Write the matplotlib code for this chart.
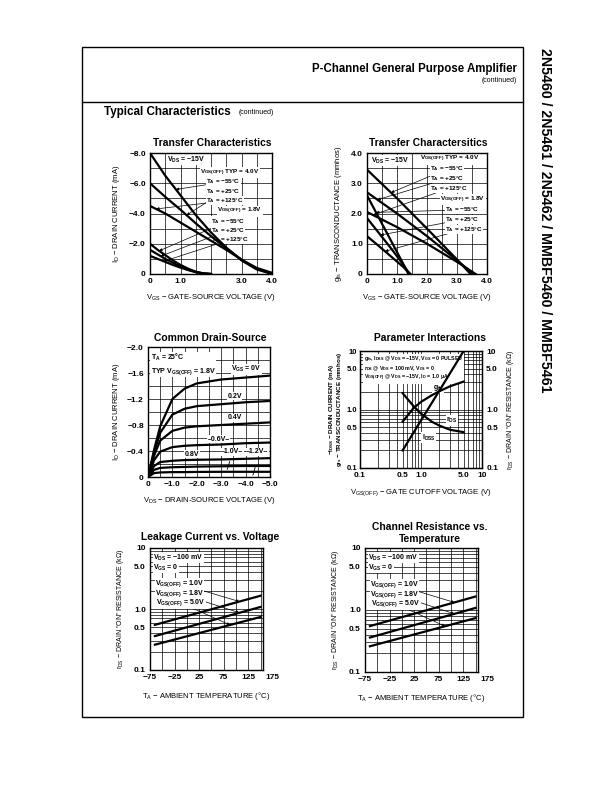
import matplotlib.pyplot as plt
import numpy as np
from matplotlib.patches import Rectangle
from matplotlib.ticker import NullFormatter

plt.rcParams['font.family'] = ['Liberation Sans Narrow', 'Liberation Sans', 'DejaVu Sans']
plt.rcParams['font.weight'] = 'bold'
plt.rcParams['mathtext.default'] = 'regular'

# ---------------- data ----------------
# Transfer characteristics, I_D (mA) vs V_GS (V)
vgs_hi = [0, 0.5, 1.0, 1.5, 2.0, 2.5, 3.0, 3.5, 4.0]
id_hi_m55 = [-8.0, -6.5, -5.2, -3.9, -2.75, -1.75, -0.9, -0.3, 0.0]
id_hi_25 = [-6.0, -5.1, -4.25, -3.35, -2.5, -1.7, -0.95, -0.35, -0.03]
id_hi_125 = [-4.5, -4.0, -3.4, -2.8, -2.2, -1.6, -0.95, -0.4, -0.08]
vgs_lo = [0, 0.25, 0.5, 0.75, 1.0, 1.25, 1.5, 1.75, 2.0]
id_lo_m55 = [-2.0, -1.6, -1.25, -0.9, -0.6, -0.35, -0.15, -0.04, 0.0]
id_lo_25 = [-1.6, -1.3, -1.0, -0.75, -0.5, -0.3, -0.13, -0.03, 0.0]
id_lo_125 = [-1.2, -1.0, -0.8, -0.6, -0.42, -0.26, -0.12, -0.04, 0.0]

# Transfer characteristics, g_fs (mmhos) vs V_GS (V)
vgs_g_hi_m55 = [0, 1.0, 2.0, 3.0, 3.45]
gfs_hi_m55 = [3.45, 2.5, 1.5, 0.48, 0.0]
vgs_g_hi_25 = [0, 1.0, 2.0, 3.0, 3.55]
gfs_hi_25 = [2.7, 2.0, 1.25, 0.45, 0.0]
vgs_g_hi_125 = [0, 1.0, 2.0, 3.0, 3.62]
gfs_hi_125 = [2.05, 1.55, 1.0, 0.4, 0.0]
vgs_g_lo_m55 = [0, 0.4, 0.8, 1.2, 1.38]
gfs_lo_m55 = [2.6, 1.85, 1.1, 0.35, 0.0]
vgs_g_lo_25 = [0, 0.4, 0.8, 1.2, 1.42]
gfs_lo_25 = [1.85, 1.35, 0.85, 0.32, 0.0]
vgs_g_lo_125 = [0, 0.4, 0.8, 1.2, 1.45]
gfs_lo_125 = [1.25, 0.92, 0.58, 0.24, 0.0]

# Common drain-source, I_D (mA) vs V_DS (V)
vds = [0, -0.25, -0.5, -1.0, -1.5, -2.0, -3.0, -4.0, -5.0]
id_vgs00 = [0, -0.42, -0.78, -1.2, -1.36, -1.44, -1.5, -1.53, -1.56]
id_vgs02 = [0, -0.38, -0.68, -0.96, -1.05, -1.09, -1.12, -1.15, -1.17]
id_vgs04 = [0, -0.33, -0.56, -0.71, -0.76, -0.78, -0.8, -0.82, -0.84]
id_vgs06 = [0, -0.26, -0.39, -0.46, -0.48, -0.49, -0.5, -0.52, -0.53]
id_vgs08 = [0, -0.17, -0.23, -0.25, -0.26, -0.265, -0.27, -0.28, -0.29]
id_vgs10 = [0, -0.11, -0.14, -0.15, -0.155, -0.16, -0.165, -0.17, -0.17]
id_vgs12 = [0, -0.06, -0.07, -0.075, -0.075, -0.078, -0.08, -0.08, -0.08]
vgs_names = ['0V', '0.2V', '0.4V', '0.6V', '0.8V', '1.0V', '1.2V']

# Parameter interactions vs V_GS(OFF)
vp_idss = [0.5, 1.0, 2.0, 5.0]
idss = [0.2, 0.65, 2.1, 10.0]
vp_gfs = [0.5, 0.75, 1.0, 1.5, 2.0, 3.0, 5.0]
gfs_vp = [0.62, 1.05, 1.35, 1.75, 2.05, 2.5, 3.0]
vp_rds = [0.5, 0.75, 1.0, 1.5, 2.0, 3.0, 5.0]
rds_vp = [1.9, 1.15, 0.85, 0.62, 0.53, 0.45, 0.41]

# Channel resistance r_DS (kOhm) vs T_A (C)
temp = [-65, 150]
rds_1v0 = [0.55, 1.65]
rds_1v8 = [0.36, 1.08]
rds_5v0 = [0.26, 0.74]

W, H = 612, 792
fig = plt.figure(figsize=(W / 100, H / 100), dpi=100)

bg = fig.add_axes([0, 0, 1, 1])
bg.set_xlim(0, W)
bg.set_ylim(H, 0)
bg.axis('off')


def add(x0, y0, x1, y1):
    return fig.add_axes([x0 / W, 1 - y1 / H, (x1 - x0) / W, (y1 - y0) / H])


def style(ax):
    ax.tick_params(which='both', length=0, labelsize=6, pad=3)
    ax.grid(which='both', color='k', lw=0.5, zorder=1)
    ax.set_axisbelow(True)
    for s in ax.spines.values():
        s.set_linewidth(1.0)


def box(ax, x, y, s, fs=5, **kw):
    ax.text(x, y, s, fontsize=fs, va='center', ha='left', zorder=2.5,
            bbox=dict(fc='white', ec='none', pad=0.3), **kw)


def note(ax, s, xy, xytext, fs=4.6):
    ax.annotate(s, xy=xy, xytext=xytext, fontsize=fs, va='center', ha='left', zorder=2.5,
                bbox=dict(fc='white', ec='none', pad=0.1),
                arrowprops=dict(arrowstyle='-|>', lw=0.5, color='k',
                                mutation_scale=4, shrinkA=0, shrinkB=0))


LW = 1.6

# ---------- page ----------
bg.add_patch(Rectangle((82, 47), 441, 670, fill=False, lw=1.0, ec='k'))
bg.plot([82, 523], [102, 102], color='k', lw=1.0)
bg.text(517, 69, 'P-Channel General Purpose Amplifier', fontsize=8.3, ha='right', va='center')
bg.text(517, 80, '(continued)', fontsize=5, ha='right', va='center', fontweight='normal')
bg.text(104, 112, 'Typical Characteristics', fontsize=8.4, ha='left', va='center')
bg.text(239, 113, '(continued)', fontsize=5, ha='left', va='center', fontweight='normal')
bg.text(545, 48, '2N5460 / 2N5461 / 2N5462 / MMBF5460 / MMBF5461', fontsize=10.2,
        rotation=270, ha='center', va='top')

bg.text(212, 143, 'Transfer Characteristics', fontsize=7.4, ha='center', va='center')
bg.text(428, 143, 'Transfer Charactersitics', fontsize=7.4, ha='center', va='center')
bg.text(210, 338, 'Common Drain-Source', fontsize=7.4, ha='center', va='center')
bg.text(430, 338, 'Parameter Interactions', fontsize=7.4, ha='center', va='center')
bg.text(210, 537, 'Leakage Current vs. Voltage', fontsize=7.4, ha='center', va='center')
bg.text(430, 533, 'Channel Resistance vs.\nTemperature', fontsize=7.4, ha='center',
        va='center', linespacing=1.15)

# ---------- chart 1: transfer, I_D ----------
ax1 = add(150, 153, 272, 274)
for y in [id_hi_m55, id_hi_25, id_hi_125]:
    ax1.plot(vgs_hi, y, color='k', lw=LW, zorder=3)
for y in [id_lo_m55, id_lo_25, id_lo_125]:
    ax1.plot(vgs_lo, y, color='k', lw=LW, zorder=3)
ax1.set_xlim(0, 4)
ax1.set_ylim(0, -8)
ax1.set_xticks([0, 1, 2, 3, 4])
ax1.set_xticklabels(['0', '1.0', '', '3.0', '4.0'])
ax1.set_yticks([0, -2, -4, -6, -8])
ax1.set_yticklabels(['0', '\u22122.0', '\u22124.0', '\u22126.0', '\u22128.0'])
ax1.set_xticks(np.arange(0, 4.01, 0.5), minor=True)
ax1.set_yticks(np.arange(0, -8.01, -1), minor=True)
style(ax1)
ax1.set_xlabel('V$_{GS}$ \u2212 GATE-SOURCE VOLTAGE (V)', fontsize=5.5, labelpad=5)
ax1.set_ylabel('I$_D$ \u2212 DRAIN CURRENT (mA)', fontsize=5.5, labelpad=5)
box(ax1, 0.55, -7.55, 'V$_{DS}$ = \u221215V')
box(ax1, 1.65, -6.7, 'V$_{GS(OFF)}$ TYP = 4.0V', fs=4.6)
note(ax1, 'T$_A$ = \u221255\u00b0C', (0.85, np.interp(0.85, vgs_hi, id_hi_m55)), (1.85, -6.08))
note(ax1, 'T$_A$ = +25\u00b0C', (1.2, np.interp(1.2, vgs_hi, id_hi_25)), (1.85, -5.46))
note(ax1, 'T$_A$ = +125\u00b0C', (0.2, np.interp(0.2, vgs_hi, id_hi_125)), (1.85, -4.84))
box(ax1, 2.2, -4.15, 'V$_{GS(OFF)}$ = 1.8V', fs=4.6)
note(ax1, 'T$_A$ = \u221255\u00b0C', (0.3, np.interp(0.3, vgs_lo, id_lo_m55)), (2.0, -3.5))
note(ax1, 'T$_A$ = +25\u00b0C', (0.35, np.interp(0.35, vgs_lo, id_lo_25)), (2.0, -2.88))
note(ax1, 'T$_A$ = +125\u00b0C', (0.45, np.interp(0.45, vgs_lo, id_lo_125)), (2.0, -2.26))

# ---------- chart 2: transfer, g_fs ----------
ax2 = add(367, 153, 487, 274)
for x, y in [(vgs_g_hi_m55, gfs_hi_m55), (vgs_g_hi_25, gfs_hi_25), (vgs_g_hi_125, gfs_hi_125),
             (vgs_g_lo_m55, gfs_lo_m55), (vgs_g_lo_25, gfs_lo_25), (vgs_g_lo_125, gfs_lo_125)]:
    ax2.plot(x, y, color='k', lw=LW, zorder=3)
ax2.set_xlim(0, 4)
ax2.set_ylim(0, 4)
ax2.set_xticks([0, 1, 2, 3, 4])
ax2.set_xticklabels(['0', '1.0', '2.0', '3.0', '4.0'])
ax2.set_yticks([0, 1, 2, 3, 4])
ax2.set_yticklabels(['0', '1.0', '2.0', '3.0', '4.0'])
ax2.set_xticks(np.arange(0, 4.01, 0.5), minor=True)
ax2.set_yticks(np.arange(0, 4.01, 0.5), minor=True)
style(ax2)
ax2.set_xlabel('V$_{GS}$ \u2212 GATE-SOURCE VOLTAGE (V)', fontsize=5.5, labelpad=5)
ax2.set_ylabel('g$_{fs}$ \u2212 TRANSCONDUCTANCE (mmhos)', fontsize=5.5, labelpad=5)
box(ax2, 0.12, 3.75, 'V$_{DS}$ = \u221215V')
box(ax2, 1.75, 3.8, 'V$_{GS(OFF)}$ TYP = 4.0V', fs=4.6)
note(ax2, 'T$_A$ = \u221255\u00b0C', (0.8, np.interp(0.8, vgs_g_hi_m55, gfs_hi_m55)), (2.1, 3.47))
note(ax2, 'T$_A$ = +25\u00b0C', (0.35, np.interp(0.35, vgs_g_hi_25, gfs_hi_25)), (2.1, 3.15))
note(ax2, 'T$_A$ = +125\u00b0C', (0.2, np.interp(0.2, vgs_g_hi_125, gfs_hi_125)), (2.1, 2.83))
box(ax2, 2.45, 2.45, 'V$_{GS(OFF)}$ = 1.8V', fs=4.6)
note(ax2, 'T$_A$ = \u221255\u00b0C', (0.3, np.interp(0.3, vgs_g_lo_m55, gfs_lo_m55)), (2.6, 2.12))
note(ax2, 'T$_A$ = +25\u00b0C', (0.45, np.interp(0.45, vgs_g_lo_25, gfs_lo_25)), (2.6, 1.8))
note(ax2, 'T$_A$ = +125\u00b0C', (0.6, np.interp(0.6, vgs_g_lo_125, gfs_lo_125)), (2.6, 1.48))

# ---------- chart 3: common drain-source ----------
ax3 = add(148, 347, 270, 477)
for y in [id_vgs00, id_vgs02, id_vgs04, id_vgs06, id_vgs08, id_vgs10, id_vgs12]:
    ax3.plot(vds, y, color='k', lw=LW, zorder=3)
ax3.set_xlim(0, -5)
ax3.set_ylim(0, -2)
ax3.set_xticks([0, -1, -2, -3, -4, -5])
ax3.set_xticklabels(['0', '\u22121.0', '\u22122.0', '\u22123.0', '\u22124.0', '\u22125.0'])
ax3.set_yticks([0, -0.4, -0.8, -1.2, -1.6, -2.0])
ax3.set_yticklabels(['0', '\u22120.4', '\u22120.8', '\u22121.2', '\u22121.6', '\u22122.0'])
ax3.set_xticks(np.arange(0, -5.01, -0.5), minor=True)
ax3.set_yticks(np.arange(0, -2.01, -0.2), minor=True)
style(ax3)
ax3.set_xlabel('V$_{DS}$ \u2212 DRAIN-SOURCE VOLTAGE (V)', fontsize=5.5, labelpad=5)
ax3.set_ylabel('I$_D$ \u2212 DRAIN CURRENT (mA)', fontsize=5.5, labelpad=4)
ax3.text(-0.12, -1.93, 'T$_A$ = 25\u00b0C\nTYP V$_{GS(OFF)}$ = 1.8V', fontsize=5, va='top',
         ha='left', linespacing=1.5, zorder=2.5, bbox=dict(fc='white', ec='none', pad=0.4))
box(ax3, -3.4, -1.66, 'V$_{GS}$ = ' + vgs_names[0])
box(ax3, -3.25, -1.24, vgs_names[1])
box(ax3, -3.25, -0.91, vgs_names[2])
box(ax3, -2.45, -0.58, '\u2013' + vgs_names[3] + '\u2013')
box(ax3, -1.5, -0.35, vgs_names[4])
box(ax3, -3.0, -0.39, '\u2013' + vgs_names[5] + '\u2013')
box(ax3, -4.02, -0.39, '\u2013' + vgs_names[6] + '\u2013')
ax3.plot([-3.25, -3.35], [-0.12, -0.24], color='k', lw=0.6, zorder=3)
ax3.plot([-4.3, -4.4], [-0.03, -0.16], color='k', lw=0.6, zorder=3)

# ---------- chart 4: parameter interactions ----------
ax4 = add(360, 351, 482, 468)
ax4.set_xscale('log')
ax4.set_yscale('log')
ax4.plot(vp_idss, idss, color='k', lw=LW, zorder=3)
ax4.plot(vp_gfs, gfs_vp, color='k', lw=LW, zorder=3)
ax4.set_xlim(0.1, 10)
ax4.set_ylim(0.1, 10)
dec = [0.1, 0.5, 1.0, 5.0, 10]
dec_lbl = ['0.1', '0.5', '1.0', '5.0', '10']
ax4.set_xticks(dec)
ax4.set_xticklabels(dec_lbl)
ax4.set_yticks(dec)
ax4.set_yticklabels(dec_lbl)
ax4.xaxis.set_minor_formatter(NullFormatter())
ax4.yaxis.set_minor_formatter(NullFormatter())
style(ax4)
ax4.tick_params(axis='y', labelsize=5.5, pad=2)
ax4r = ax4.twinx()
ax4r.set_yscale('log')
ax4r.plot(vp_rds, rds_vp, color='k', lw=LW, zorder=3)
ax4r.set_ylim(0.1, 10)
ax4r.set_yticks(dec)
ax4r.set_yticklabels(dec_lbl)
ax4r.yaxis.set_minor_formatter(NullFormatter())
ax4r.tick_params(which='both', length=0, labelsize=6, pad=3)
ax4.set_xlabel('V$_{GS(OFF)}$ \u2212 GATE CUTOFF VOLTAGE (V)', fontsize=5.5, labelpad=6)
ax4.text(-0.165, 0.5, 'g$_{fs}$ \u2212 TRANSCONDUCTANCE (mmhos)', fontsize=4.5, rotation=90,
         ha='center', va='center', transform=ax4.transAxes)
ax4.text(-0.23, 0.5, '\u2212I$_{DSS}$ \u2212 DRAIN CURRENT (mA)', fontsize=4.5, rotation=90,
         ha='center', va='center', transform=ax4.transAxes)
ax4r.set_ylabel('r$_{DS}$ \u2212 DRAIN "ON" RESISTANCE (k\u03a9)', fontsize=5, labelpad=5)
ax4.text(0.115, 8.8, 'g$_{fs}$, I$_{DSS}$ @ V$_{DS}$ = \u221215V, V$_{GS}$ = 0 PULSED\n'
         'r$_{DS}$ @ V$_{DS}$ = 100 mV, V$_{GS}$ = 0\n'
         'V$_{GS(OFF)}$ @ V$_{DS}$ = \u221215V, I$_D$ = 1.0 \u00b5A',
         fontsize=3.8, va='top', ha='left', linespacing=1.1, zorder=2.5,
         bbox=dict(fc='white', ec='none', pad=0.5))
box(ax4, 1.55, 2.35, 'g$_{fs}$')
box(ax4, 2.6, 0.66, 'r$_{DS}$')
box(ax4, 1.02, 0.33, 'I$_{DSS}$')

# ---------- charts 5 and 6: r_DS vs temperature ----------
for (x0, y0, x1, y1) in [(150, 548, 263, 670), (365, 548, 478, 672)]:
    ax = add(x0, y0, x1, y1)
    ax.set_yscale('log')
    for r in [rds_1v0, rds_1v8, rds_5v0]:
        ax.plot(temp, r, color='k', lw=LW, zorder=3)
    ax.set_xlim(-75, 155)
    ax.set_ylim(0.1, 10)
    ax.set_xticks([-75, -25, 25, 75, 125])
    ax.set_xticklabels(['\u221275', '\u221225', '25', '75', '125'])
    ax.set_xticks(np.arange(-50, 151, 25), minor=True)
    ax.set_yticks(dec)
    ax.set_yticklabels(dec_lbl)
    ax.yaxis.set_minor_formatter(NullFormatter())
    ax.xaxis.set_minor_formatter(NullFormatter())
    style(ax)
    ax.text(175, -0.035, '175', fontsize=6, ha='center', va='top',
            transform=ax.get_xaxis_transform(), clip_on=False)
    ax.set_xlabel('T$_A$ \u2212 AMBIENT TEMPERATURE (\u00b0C)', fontsize=5.5, labelpad=6)
    ax.set_ylabel('r$_{DS}$ \u2212 DRAIN "ON" RESISTANCE (k\u03a9)', fontsize=5, labelpad=6)
    box(ax, -68, 7.0, 'V$_{DS}$ = \u2212100 mV')
    box(ax, -68, 4.8, 'V$_{GS}$ = 0')
    for s, r, tx, ty, px in [('1.0V', rds_1v0, -65, 2.6, 107),
                             ('1.8V', rds_1v8, -65, 1.8, 107),
                             ('5.0V', rds_5v0, -62, 1.25, 88)]:
        py = 10 ** np.interp(px, temp, np.log10(r))
        note(ax, 'V$_{GS(OFF)}$ = ' + s, (px, py), (tx, ty), fs=5)

fig.savefig('out.png', dpi=100)
